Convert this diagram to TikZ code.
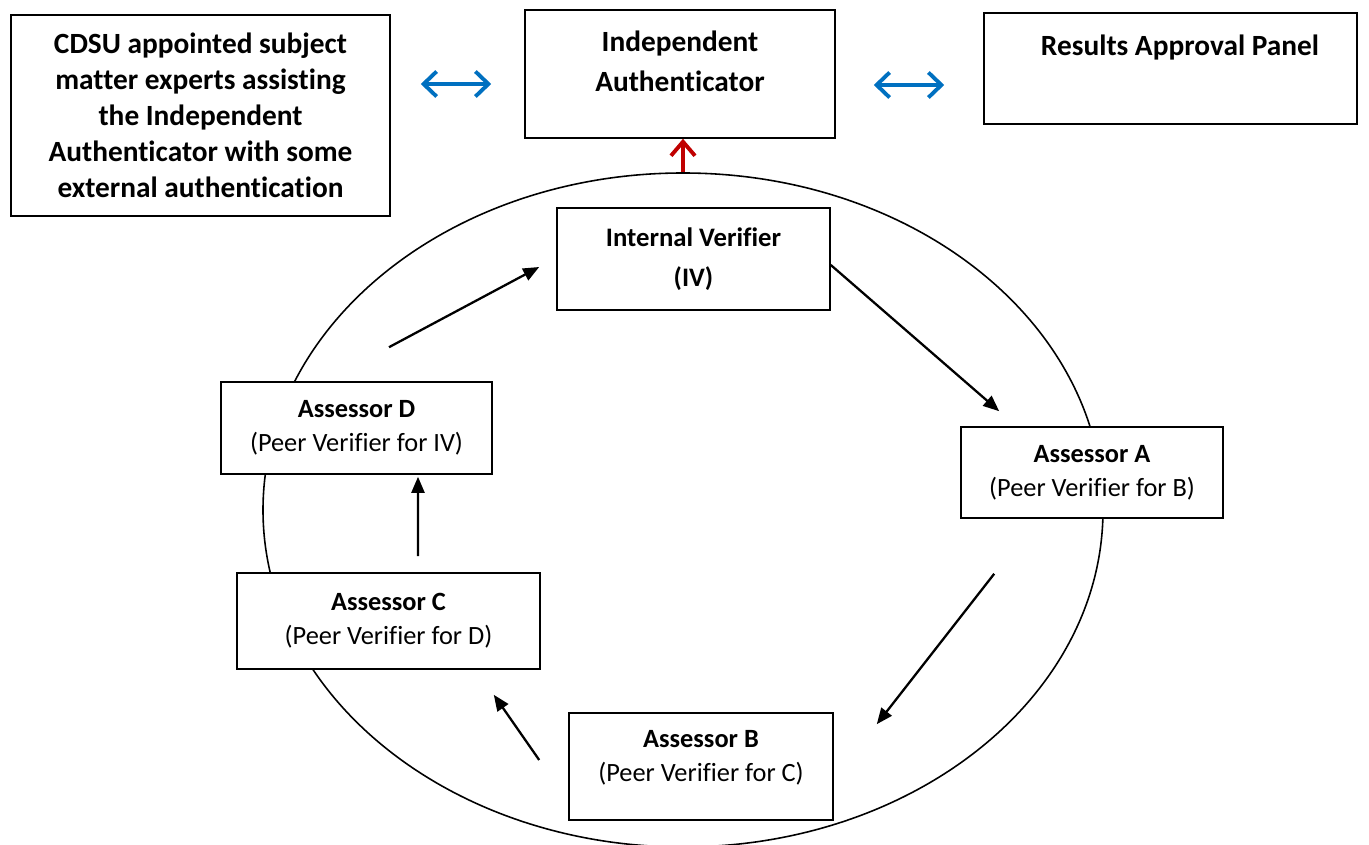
\documentclass[tikz,border=0pt]{standalone}
\usepackage{fontspec}
\setmainfont[Ligatures=NoCommon]{Carlito}
\usepackage{xcolor}
\usetikzlibrary{arrows.meta,shapes.geometric}
\definecolor{linkblue}{HTML}{0070C0}
\definecolor{upred}{HTML}{C00000}

\begin{document}
\begin{tikzpicture}[
  every node/.style={align=center},
  box/.style={rectangle, draw=black, fill=white, line width=0.9pt, inner sep=0pt},
  toptext/.style={font=\fontsize{16.7}{20.4}\selectfont\bfseries},
  widetext/.style={font=\fontsize{16.7}{22.7}\selectfont\bfseries},
  ringtext/.style={font=\fontsize{15}{19.3}\selectfont},
  ivtext/.style={font=\fontsize{15.2}{22.7}\selectfont\bfseries},
  flow/.style={-{Triangle[length=3.2mm, width=2.6mm]}, line width=1.3pt, black},
  link/.style={{Straight Barb[length=2.6mm, width=5mm]}-{Straight Barb[length=2.6mm, width=5mm]}, line width=2.2pt, linkblue},
  up/.style={-{Straight Barb[length=2.8mm, width=4.8mm]}, line width=2.2pt, upred}
]
\useasboundingbox (0,0) rectangle (27.38,-16.9);

%% Ring (behind the boxes)
\node[ellipse, draw=black, line width=0.9pt, minimum width=16.8cm, minimum height=13.48cm] (ring) at (13.66,-10.2) {};

%% Top row
\node[box, toptext, minimum width=7.58cm, minimum height=4.02cm] (cdsu) at (4.01,-2.31)
  {CDSU appointed subject\\matter experts assisting\\the Independent\\Authenticator with some\\external authentication};

\node[box, minimum width=6.2cm, minimum height=2.56cm] (ia) at (13.6,-1.48) {};
\node[widetext] (iatext) at (13.6,-1.22) {Independent\\Authenticator};

\node[box, minimum width=7.46cm, minimum height=2.22cm] (rap) at (23.41,-1.37) {};
\node[toptext] (raptext) at (23.6,-0.96) {Results Approval Panel};

%% Ring members
\node[box, ivtext, minimum width=5.46cm, minimum height=2.04cm] (iv) at (13.87,-5.18)
  {Internal Verifier\\(IV)};
\node[box, ringtext, minimum width=5.24cm, minimum height=1.82cm] (assa) at (21.84,-9.45)
  {\bfseries Assessor A\\(Peer Verifier for B)};
\node[box, ringtext, minimum width=5.28cm, minimum height=2.14cm] (assb) at (14.02,-15.33)
  {\bfseries Assessor B\\(Peer Verifier for C)\\[-7.5pt]};
\node[box, ringtext, minimum width=6.06cm, minimum height=1.92cm] (assc) at (7.77,-12.42)
  {\bfseries Assessor C\\(Peer Verifier for D)};
\node[box, ringtext, minimum width=5.42cm, minimum height=1.84cm] (assd) at (7.13,-8.56)
  {\bfseries Assessor D\\(Peer Verifier for IV)};

%% Links along the top
\draw[link] ([shift={(0.6,0.63)}]cdsu.east) -- ([shift={(-0.66,-0.2)}]ia.west);
\draw[link] ([shift={(0.76,-0.22)}]ia.east) -- ([shift={(-0.78,-0.33)}]rap.west);
\draw[up] (ring.north) -- (ring.north |- ia.south);

%% Round the ring
\draw[flow] ([shift={(0.65,0.68)}]assd.north) -- ([shift={(-0.34,-0.16)}]iv.west);
\draw[flow] ([shift={(0,-0.12)}]iv.east) -- ([shift={(0.78,0.3)}]assa.north west);
\draw[flow] ([shift={(0.68,-1.1)}]assa.south west) -- ([shift={(0.86,-0.24)}]assb.north east);
\draw[flow] ([shift={(-0.58,0.13)}]assb.west) -- ([shift={(-0.94,-0.5)}]assc.south east);
\draw[flow] ([shift={(0.59,0.32)}]assc.north) -- ([shift={(1.23,-0.04)}]assd.south);

\end{tikzpicture}
\end{document}
